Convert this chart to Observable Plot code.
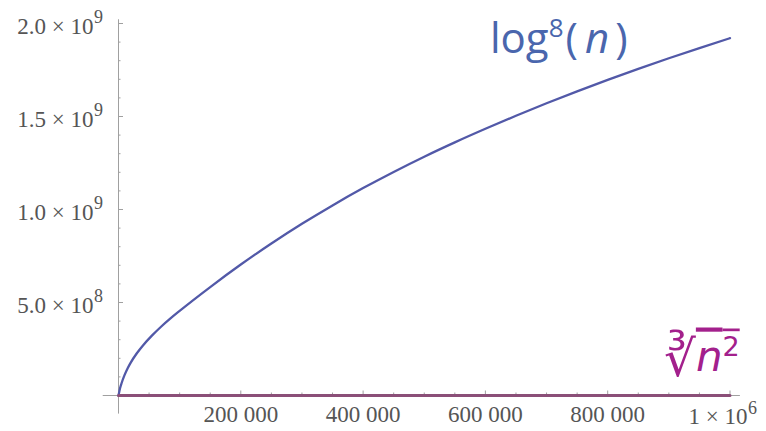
<!DOCTYPE html>
<html><head><meta charset="utf-8">
<script src="https://cdn.jsdelivr.net/npm/d3@7"></script>
<script src="https://cdn.jsdelivr.net/npm/@observablehq/plot@0.6"></script>
<style>body{margin:0;background:#fff;}</style>
</head><body><div id="chart"></div>
<script>
// n values (x) and the two series
const n = [0, 2500, 5000, 10000, 15000, 20000, 30000, 40000, 55000, 70000, 85000, 100000, 150000, 200000, 250000, 300000, 350000, 400000, 450000, 500000, 550000, 600000, 650000, 700000, 750000, 800000, 850000, 900000, 950000, 1000000];
const logValues = [0, 0.0385e9, 0.066e9, 0.111e9, 0.147e9, 0.177e9, 0.227e9, 0.269e9, 0.323e9, 0.371e9, 0.4145e9, 0.455e9, 0.583e9, 0.704e9, 0.817e9, 0.923e9, 1.022e9, 1.115e9, 1.202e9, 1.284e9, 1.361e9, 1.434e9, 1.504e9, 1.571e9, 1.635e9, 1.697e9, 1.756e9, 1.813e9, 1.868e9, 1.921e9];
const cbrtValues = [0, 180, 290, 460, 610, 740, 970, 1170, 1450, 1700, 1930, 2150, 2820, 3420, 3970, 4480, 4970, 5430, 5870, 6300, 6710, 7110, 7500, 7880, 8250, 8620, 8970, 9320, 9660, 10000];

// series labels
const logLabel = "log8(n)";
const cbrtLabel = "∛n2";

// tick values and labels
const xMajorTicks = [200000, 400000, 600000, 800000, 1000000];
const xTickLabels = ["200 000", "400 000", "600 000", "800 000", "1 × 10"];
const xTickExps = ["", "", "", "", "6"];
const xMinorTicks = [50000, 100000, 150000, 250000, 300000, 350000, 450000, 500000, 550000, 650000, 700000, 750000, 850000, 900000, 950000];
const yMajorTicks = [5e8, 1e9, 1.5e9, 2e9];
const yTickLabels = ["5.0 × 10", "1.0 × 10", "1.5 × 10", "2.0 × 10"];
const yTickExps = ["8", "9", "9", "9"];
const yMinorTicks = [1e8, 2e8, 3e8, 4e8, 6e8, 7e8, 8e8, 9e8, 1.1e9, 1.2e9, 1.3e9, 1.4e9, 1.6e9, 1.7e9, 1.8e9, 1.9e9];

const axisColor = "#a0a0a0";
const labelColor = "#555";
const serif = "Liberation Serif";

const svg = Plot.plot({
  width: 766,
  height: 431,
  marginLeft: 118,
  marginRight: 36.5,
  marginTop: 23,
  marginBottom: 36,
  x: {domain: [0, 1000000], axis: null},
  y: {domain: [0, 2e9], axis: null},
  style: {background: "#fff", overflow: "visible"},
  marks: [
    // axis lines (with the small overhang of the original)
    Plot.ruleX([0], {y1: -1e8, y2: 2.02e9, stroke: axisColor, strokeWidth: 1}),
    Plot.ruleY([0], {x1: -25000, x2: 1017000, stroke: axisColor, strokeWidth: 1}),
    // ticks
    Plot.axisX(xMajorTicks, {anchor: "bottom", tickSize: -4.5, tickFormat: () => "", label: null, stroke: axisColor}),
    Plot.axisX(xMinorTicks, {anchor: "bottom", tickSize: -2.5, tickFormat: () => "", label: null, stroke: axisColor}),
    Plot.axisY(yMajorTicks, {anchor: "left", tickSize: -5, tickFormat: () => "", label: null, stroke: axisColor}),
    Plot.axisY(yMinorTicks, {anchor: "left", tickSize: -2.5, tickFormat: () => "", label: null, stroke: axisColor}),
    // y tick labels
    Plot.text(yMajorTicks, {x: 0, y: d => d, text: (d, i) => yTickLabels[i], textAnchor: "end", dx: -25, dy: 3, fontFamily: serif, fontSize: 23, fill: labelColor}),
    Plot.text(yMajorTicks, {x: 0, y: d => d, text: (d, i) => yTickExps[i], textAnchor: "start", dx: -24.5, dy: -6, fontFamily: serif, fontSize: 18, fill: labelColor}),
    // x tick labels
    Plot.text(xMajorTicks, {filter: (d, i) => !xTickExps[i], x: d => d, y: 0, text: (d, i) => xTickLabels[i], textAnchor: "middle", dy: 19.5, fontFamily: serif, fontSize: 23, fill: labelColor}),
    Plot.text(xMajorTicks, {filter: (d, i) => xTickExps[i], x: d => d, y: 0, text: (d, i) => xTickLabels[i], textAnchor: "end", dx: 17.5, dy: 21, fontFamily: serif, fontSize: 23, fill: labelColor}),
    Plot.text(xMajorTicks, {filter: (d, i) => xTickExps[i], x: d => d, y: 0, text: (d, i) => xTickExps[i], textAnchor: "start", dx: 18, dy: 13, fontFamily: serif, fontSize: 18, fill: labelColor}),
    // series
    Plot.line(n, {x: d => d, y: (d, i) => logValues[i], stroke: "#5259a8", strokeWidth: 2.3, curve: "monotone-x"}),
    Plot.line(n, {x: d => d, y: (d, i) => cbrtValues[i], stroke: "#8b4f78", strokeWidth: 3}),
    // series labels
    Plot.text([logLabel], {frameAnchor: "top-right", text: d => d, dx: -240, dy: 29, textAnchor: "start", lineAnchor: "bottom", fontFamily: "Open Sans", fontSize: 42, fill: "#4a66ad"}),
    Plot.text([cbrtLabel], {frameAnchor: "bottom-right", text: d => d, dx: -66, dy: -25, textAnchor: "start", lineAnchor: "bottom", fontFamily: "DejaVu Sans", fontSize: 40, fill: "#a3208c"})
  ]
});

// rich formatting of the two series labels (superscripts / italics)
const texts = d3.select(svg).selectAll("text");
texts.filter(function() { return this.textContent === logLabel; })
  .html('log<tspan dy="-16" font-size="26">8</tspan><tspan dy="16" dx="2">(</tspan><tspan font-style="italic" dx="7">n</tspan><tspan dx="6">)</tspan>');
texts.filter(function() { return this.textContent === cbrtLabel; })
  .html('<tspan font-size="50" dy="5">∛</tspan><tspan dy="-5" style="text-decoration: overline" font-style="italic" font-size="42">n<tspan dy="-15" font-size="27" font-style="normal">2</tspan></tspan>');

document.getElementById("chart").appendChild(svg);
</script>
</body></html>
